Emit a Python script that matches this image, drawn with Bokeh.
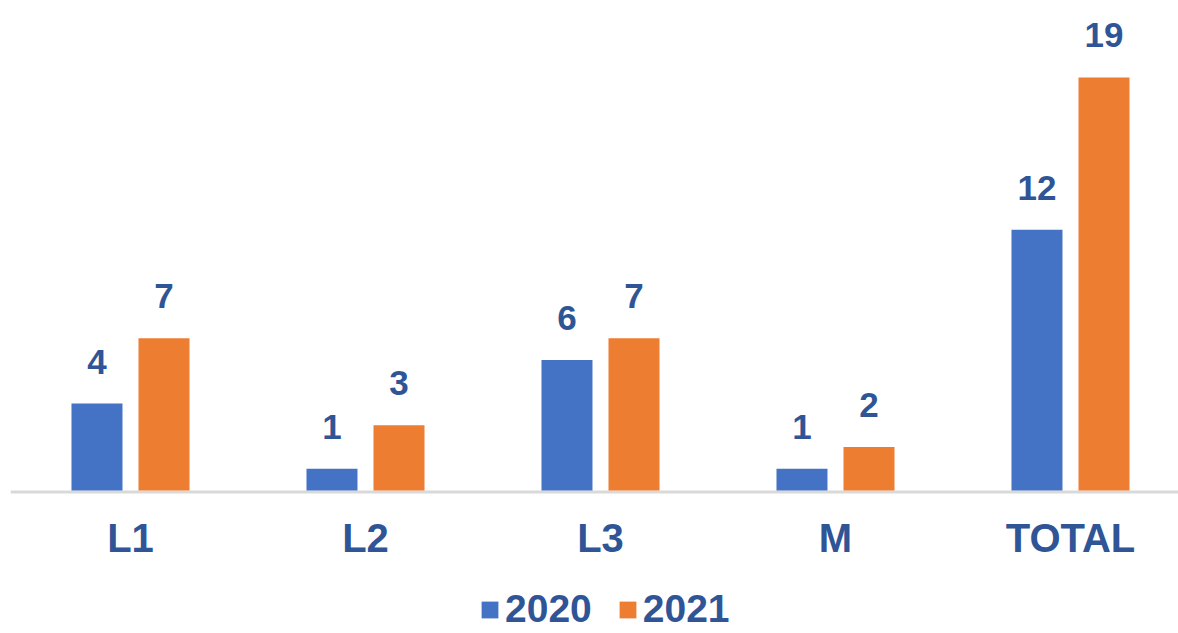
from bokeh.plotting import figure
from bokeh.models import ColumnDataSource, Range1d, LabelSet, Legend, LegendItem, Span
from bokeh.transform import dodge
from bokeh.core.properties import value
from bokeh.embed import file_html
from bokeh.resources import INLINE

categories = ["L1", "L2", "L3", "M", "TOTAL"]
values_2020 = [4, 1, 6, 1, 12]
values_2021 = [7, 3, 7, 2, 19]
series_names = ["2020", "2021"]
colors = ["#4472C4", "#ED7D31"]
text_color = "#2F5597"
font = "Liberation Sans"

xs = list(range(len(categories)))
src = ColumnDataSource(dict(
    x=xs,
    zero=[0] * len(xs),
    cat=categories,
    v2020=values_2020,
    v2021=values_2021,
    t2020=[str(v) for v in values_2020],
    t2021=[str(v) for v in values_2021],
))

p = figure(width=1178, height=633,
           x_range=Range1d(-0.5106, 4.4596), y_range=Range1d(-6.578, 22.54),
           output_backend="svg", toolbar_location=None,
           x_axis_location=None, y_axis_location=None,
           min_border_left=10, min_border_right=0, min_border_top=0, min_border_bottom=0)
p.outline_line_color = None
p.xgrid.visible = False
p.ygrid.visible = False
p.background_fill_color = "white"
p.border_fill_color = "white"

# category baseline (axis line)
p.add_layout(Span(location=-0.07, dimension="width", line_color="#D9D9D9",
                  line_width=3, level="underlay"))

bw = 0.217
off = 0.1426
r1 = p.vbar(x=dodge("x", -off), top="v2020", width=bw, source=src, color=colors[0], line_color=None)
r2 = p.vbar(x=dodge("x", off), top="v2021", width=bw, source=src, color=colors[1], line_color=None)

for col, tcol, o in (("v2020", "t2020", -off), ("v2021", "t2021", off)):
    p.add_layout(LabelSet(x=dodge("x", o), y=col, text=tcol, source=src,
                          text_align="center", text_baseline="alphabetic", y_offset=30,
                          text_font=value(font), text_font_style="bold",
                          text_font_size="35px", text_color=text_color))

# category labels
p.add_layout(LabelSet(x="x", y="zero", text="cat", source=src,
                      text_align="center", text_baseline="alphabetic", y_offset=-61,
                      text_font=value(font), text_font_style="bold",
                      text_font_size="40px", text_color=text_color))

legend = Legend(items=[LegendItem(label=series_names[0], renderers=[r1]),
                       LegendItem(label=series_names[1], renderers=[r2])],
                orientation="horizontal", location=(469, 2),
                label_text_font=font, label_text_font_style="bold",
                label_text_font_size="39px", label_text_color=text_color,
                glyph_width=21, glyph_height=21, label_standoff=5, spacing=25,
                label_height=40,
                border_line_color=None, background_fill_alpha=0,
                padding=0, margin=0)
p.add_layout(legend, "center")

open("out.html", "w").write(file_html(p, INLINE))
